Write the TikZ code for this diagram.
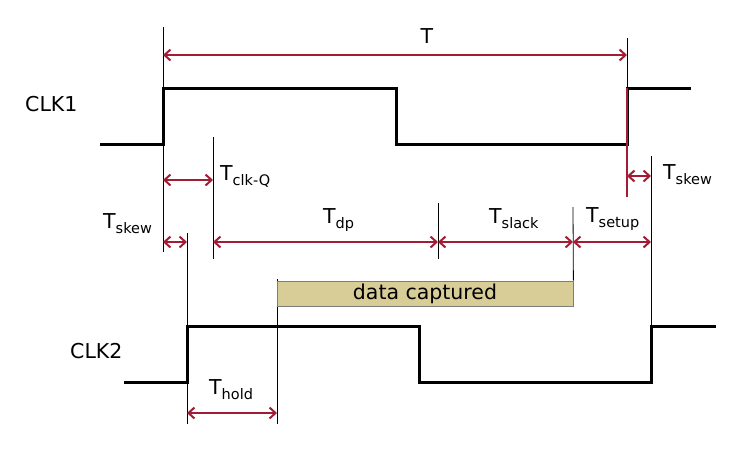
\documentclass[tikz,border=0pt]{standalone}
\usepackage{fontspec}
\setmainfont{DejaVu Sans}
\usepackage{tikz}
\usetikzlibrary{arrows.meta}
\usepackage{xcolor}
\definecolor{dimred}{RGB}{162,28,52}
\definecolor{captan}{RGB}{217,205,151}
\definecolor{capgray}{RGB}{125,125,125}
\newcommand{\Tsub}[1]{T\raisebox{-5pt}{\fontsize{14.5}{14.5}\selectfont #1}}

\begin{document}
\begin{tikzpicture}[x=1pt,y=-1pt,
  wave/.style={line width=3pt},
  guide/.style={line width=0.8pt},
  dim/.style={draw=dimred,line width=2pt,{Straight Barb[length=6pt,width=11pt]}-{Straight Barb[length=6pt,width=11pt]}},
  lbl/.style={inner sep=0pt,anchor=base west,font=\fontsize{20.5}{24}\selectfont},
  capbox/.style={draw=capgray,fill=captan,line width=0.8pt,inner sep=0pt,minimum width=296pt,minimum height=25pt,font=\fontsize{20.5}{24}\selectfont}]
\useasboundingbox (0,0) rectangle (742,459);
\draw[guide] (163,27)--(163,252);
\draw[guide] (213,137)--(213,259);
\draw[guide] (627,38)--(627,88);
\draw[guide] (651,156)--(651,326);
\draw[guide] (187,233)--(187,424);
\draw[guide] (277,279)--(277,424);
\draw[guide] (438,203)--(438,259);
\node[capbox] (cap) at (425,293.5) {data captured};
\draw[guide] (573,207)--(cap.north east);
\draw[wave] (100,144)--(163,144)--(163,88)--(396,88)--(396,144)--(627,144)--(627,88)--(691,88);
\draw[wave] (124,382)--(187,382)--(187,326)--(419,326)--(419,382)--(651,382)--(651,326)--(716,326);
\draw[dimred,line width=2.2pt] (627,88)--(627,197);
\coordinate (T0) at (163,55);
\coordinate (T1) at (627,55);
\coordinate (Q0) at (163,180);
\coordinate (Q1) at (213,180);
\coordinate (S0) at (163,242);
\coordinate (S1) at (187,242);
\coordinate (D0) at (213,242);
\coordinate (D1) at (438,242);
\coordinate (L1) at (573,242);
\coordinate (U1) at (651,242);
\coordinate (K0) at (627,176);
\coordinate (K1) at (651,176);
\coordinate (H0) at (187,413);
\coordinate (H1) at (277,413);
\draw[dim] (T0)--(T1);
\draw[dim] (Q0)--(Q1);
\draw[dim] (S0)--(S1);
\draw[dim] (D0)--(D1);
\draw[dim] (D1)--(L1);
\draw[dim] (L1)--(U1);
\draw[dim] (K0)--(K1);
\draw[dim] (H0)--(H1);
\node[lbl,anchor=base] (tper) at (427,43) {T};
\node[lbl] (tclkq) at (220,180) {\Tsub{clk-Q}};
\node[lbl] (tskewa) at (103,228) {\Tsub{skew}};
\node[lbl] (tdp) at (323,223) {\Tsub{dp}};
\node[lbl] (tslack) at (489,223) {\Tsub{slack}};
\node[lbl] (tsetup) at (586,222) {\Tsub{setup}};
\node[lbl] (tskewb) at (663,179) {\Tsub{skew}};
\node[lbl] (thold) at (209,394) {\Tsub{hold}};
\node[lbl] (clka) at (25,111) {CLK1};
\node[lbl] (clkb) at (70,358) {CLK2};
\end{tikzpicture}
\end{document}
